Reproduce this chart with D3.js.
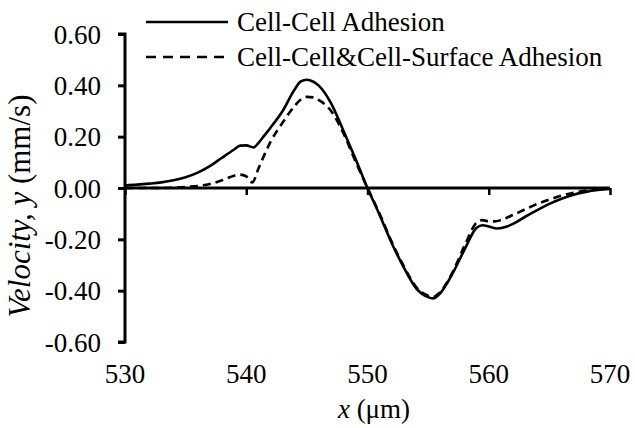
<!DOCTYPE html>
<html>
<head>
<meta charset="utf-8">
<script src="https://cdn.jsdelivr.net/npm/d3@7"></script>
<style>
  html, body { margin: 0; padding: 0; background: #fff; }
  svg { display: block; }
</style>
</head>
<body>
<svg id="chart" width="635" height="428" font-family="'Liberation Serif', serif"></svg>
<script>
// ---- data ----
const xCellCell = [530, 531, 532, 533, 534, 535, 536, 537, 538, 539, 539.5, 540, 540.6, 541, 541.5, 542, 543, 544, 544.5, 545, 545.5, 546, 547, 548, 549, 550, 551, 552, 553, 554, 555, 555.4, 556, 557, 558, 559, 559.5, 560, 560.7, 561.5, 562, 563, 564, 565, 566, 567, 568, 569, 570];
const cellCell  = [0.010, 0.013, 0.017, 0.022, 0.030, 0.042, 0.060, 0.085, 0.118, 0.150, 0.165, 0.166, 0.158, 0.175, 0.205, 0.235, 0.300, 0.385, 0.415, 0.422, 0.415, 0.398, 0.330, 0.225, 0.115, 0.000, -0.105, -0.215, -0.310, -0.390, -0.425, -0.430, -0.410, -0.335, -0.240, -0.155, -0.145, -0.150, -0.158, -0.150, -0.140, -0.112, -0.086, -0.062, -0.042, -0.026, -0.015, -0.008, -0.004];

const xCellSurface = [530, 531, 532, 533, 534, 535, 536, 537, 538, 539, 539.5, 540, 540.5, 541, 541.5, 542, 543, 544, 544.5, 545, 545.5, 546, 547, 548, 549, 550, 551, 552, 553, 554, 555, 555.4, 556, 557, 558, 559, 559.5, 560, 560.5, 561, 562, 563, 564, 565, 566, 567, 568, 569, 570];
const cellSurface  = [0.000, 0.000, 0.000, 0.000, 0.001, 0.004, 0.008, 0.016, 0.030, 0.048, 0.052, 0.045, 0.022, 0.075, 0.130, 0.180, 0.255, 0.320, 0.345, 0.355, 0.353, 0.342, 0.300, 0.215, 0.105, 0.000, -0.100, -0.210, -0.305, -0.385, -0.420, -0.425, -0.405, -0.330, -0.225, -0.135, -0.125, -0.130, -0.130, -0.125, -0.105, -0.083, -0.062, -0.045, -0.030, -0.019, -0.010, -0.005, -0.002];

const xTicks = [530, 540, 550, 560, 570];
const yTicks = [-0.6, -0.4, -0.2, 0, 0.2, 0.4, 0.6];
const legendLabels = ["Cell-Cell Adhesion", "Cell-Cell&Cell-Surface Adhesion"];

// ---- chart ----
const FONT = "'Liberation Serif', serif";
const FS = 27;
const svg = d3.select("#chart");
const x = d3.scaleLinear().domain([530, 570]).range([125, 610]);
const y = d3.scaleLinear().domain([-0.6, 0.6]).range([342, 34]);

// y axis
const yAxis = d3.axisLeft(y).tickValues(yTicks).tickSize(7).tickPadding(17)
  .tickFormat(d => d3.format(".2f")(d).replace("−", "-"));
const gy = svg.append("g").attr("transform", `translate(${x(530)},0)`).call(yAxis)
  .attr("font-family", FONT).attr("font-size", FS);
gy.select(".domain").attr("stroke-width", 3).attr("stroke", "#000")
  .attr("d", `M-7,${y(0.6)}H0V${y(-0.6)}H-7`);
gy.selectAll(".tick line").attr("stroke-width", 3).attr("stroke", "#000");
gy.selectAll(".tick text").attr("fill", "#000").attr("dy", "0.34em");

// x axis (along zero line), labels at bottom
const xAxis = d3.axisBottom(x).tickValues(xTicks).tickSize(7).tickFormat("");
const gx = svg.append("g").attr("transform", `translate(0,${y(0)})`).call(xAxis);
gx.select(".domain").attr("stroke-width", 3).attr("stroke", "#000")
  .attr("d", `M${x(530)},0H${x(570)}`);
gx.selectAll(".tick line").attr("stroke-width", 2.5).attr("stroke", "#000");

svg.append("g").selectAll("text").data(xTicks).join("text")
  .attr("x", d => x(d)).attr("y", 383)
  .attr("text-anchor", "middle").attr("font-size", FS).attr("font-family", FONT)
  .text(d => d);

// lines
const line = d3.line().curve(d3.curveMonotoneX);
svg.append("path")
  .attr("d", line(xCellCell.map((v, i) => [x(v), y(cellCell[i])])))
  .attr("fill", "none").attr("stroke", "#000").attr("stroke-width", 2.6);
svg.append("path")
  .attr("d", line(xCellSurface.map((v, i) => [x(v), y(cellSurface[i])])))
  .attr("fill", "none").attr("stroke", "#000").attr("stroke-width", 2.6)
  .attr("stroke-dasharray", "8,5");

// legend
const legendY = [22, 57];
legendLabels.forEach((lab, i) => {
  svg.append("line").attr("x1", 146).attr("x2", 228)
    .attr("y1", legendY[i]).attr("y2", legendY[i])
    .attr("stroke", "#000").attr("stroke-width", 2.6)
    .attr("stroke-dasharray", i === 1 ? "10,7" : null);
  svg.append("text").attr("x", 237).attr("y", legendY[i] + 9)
    .attr("font-size", FS).attr("font-family", FONT).text(lab);
});

// axis titles
const yt = svg.append("text")
  .attr("transform", "translate(30,206) rotate(-90)")
  .attr("text-anchor", "middle").attr("font-size", 31).attr("font-family", FONT);
yt.append("tspan").attr("font-style", "italic").text("Velocity, y");
yt.append("tspan").text(" (mm/s)");

const xt = svg.append("text").attr("x", 374).attr("y", 418)
  .attr("text-anchor", "middle").attr("font-size", FS).attr("font-family", FONT);
xt.append("tspan").attr("font-style", "italic").text("x");
xt.append("tspan").text(" (μm)");
</script>
</body>
</html>
